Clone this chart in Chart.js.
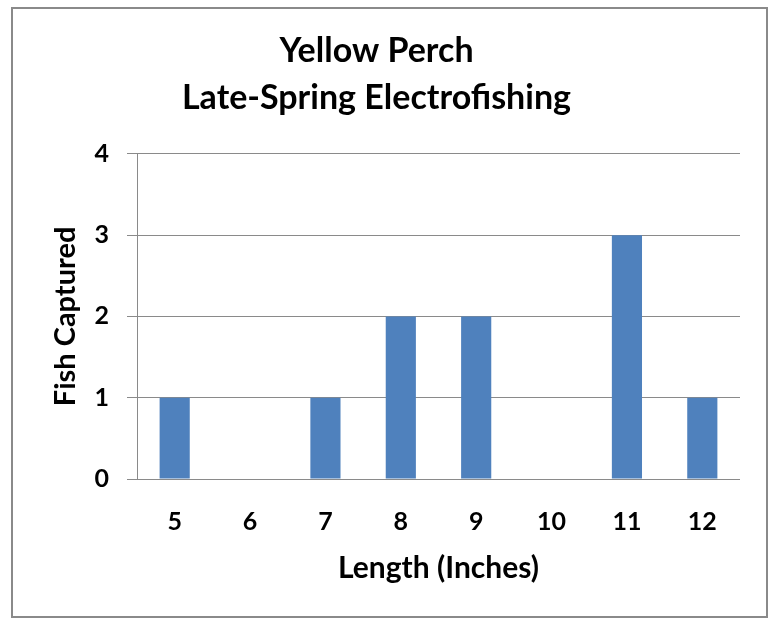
<!DOCTYPE html>
<html>
<head>
<meta charset="utf-8">
<script src="https://cdn.jsdelivr.net/npm/chart.js@4"></script>
<style>
  html, body { margin: 0; padding: 0; background: #fff; }
  #frame {
    position: absolute; left: 11px; top: 7px;
    width: 757px; height: 611px;
    border: 2px solid #8a8a8a; box-sizing: border-box;
  }
  canvas { display: block; }
</style>
</head>
<body>
<div id="frame"><canvas id="chart" width="753" height="607"></canvas></div>
<script>
// lengths in inches
const lengths = ['5', '6', '7', '8', '9', '10', '11', '12'];
const fishCaptured = [1, 0, 1, 2, 2, 0, 3, 1];
const titleLines = ['Yellow Perch', 'Late-Spring Electrofishing'];

const FONT = 'Lato, Calibri, sans-serif';

new Chart(document.getElementById('chart'), {
  type: 'bar',
  data: {
    labels: lengths,
    datasets: [
      { label: 'Fish Captured', data: fishCaptured, backgroundColor: '#4f81bd',
        barPercentage: 0.4, categoryPercentage: 1.0 }
    ]
  },
  options: {
    responsive: false,
    animation: false,
    layout: { padding: { left: 0, right: 26, top: 0, bottom: 0 } },
    plugins: {
      legend: { display: false },
      tooltip: { enabled: false },
      title: {
        display: true,
        text: titleLines,
        color: '#000',
        font: { family: FONT, size: 34, weight: 'bold', lineHeight: 1.38 },
        padding: { top: 19, bottom: 32 }
      }
    },
    scales: {
      x: {
        grid: { display: false },
        border: { display: false },
        ticks: { color: '#000', font: { family: FONT, size: 25, weight: 'bold' }, padding: 20 },
        title: { display: true, text: 'Length (Inches)', color: '#000',
                 font: { family: FONT, size: 30, weight: 'bold' }, padding: { top: 0, bottom: 30 } },
        afterFit: (s) => { s.height = 137; }
      },
      y: {
        min: 0, max: 4,
        ticks: { stepSize: 1, color: '#000', font: { family: FONT, size: 25, weight: 'bold' }, padding: 18 },
        grid: { color: '#8a8a8a', lineWidth: 1, tickLength: 10 },
        border: { color: '#8a8a8a', width: 1 },
        title: { display: true, text: 'Fish Captured', color: '#000',
                 font: { family: FONT, size: 29, weight: 'bold' }, padding: { top: 35, bottom: 0 } },
        afterFit: (s) => { s.width = 124; }
      }
    }
  }
});
</script>
</body>
</html>
